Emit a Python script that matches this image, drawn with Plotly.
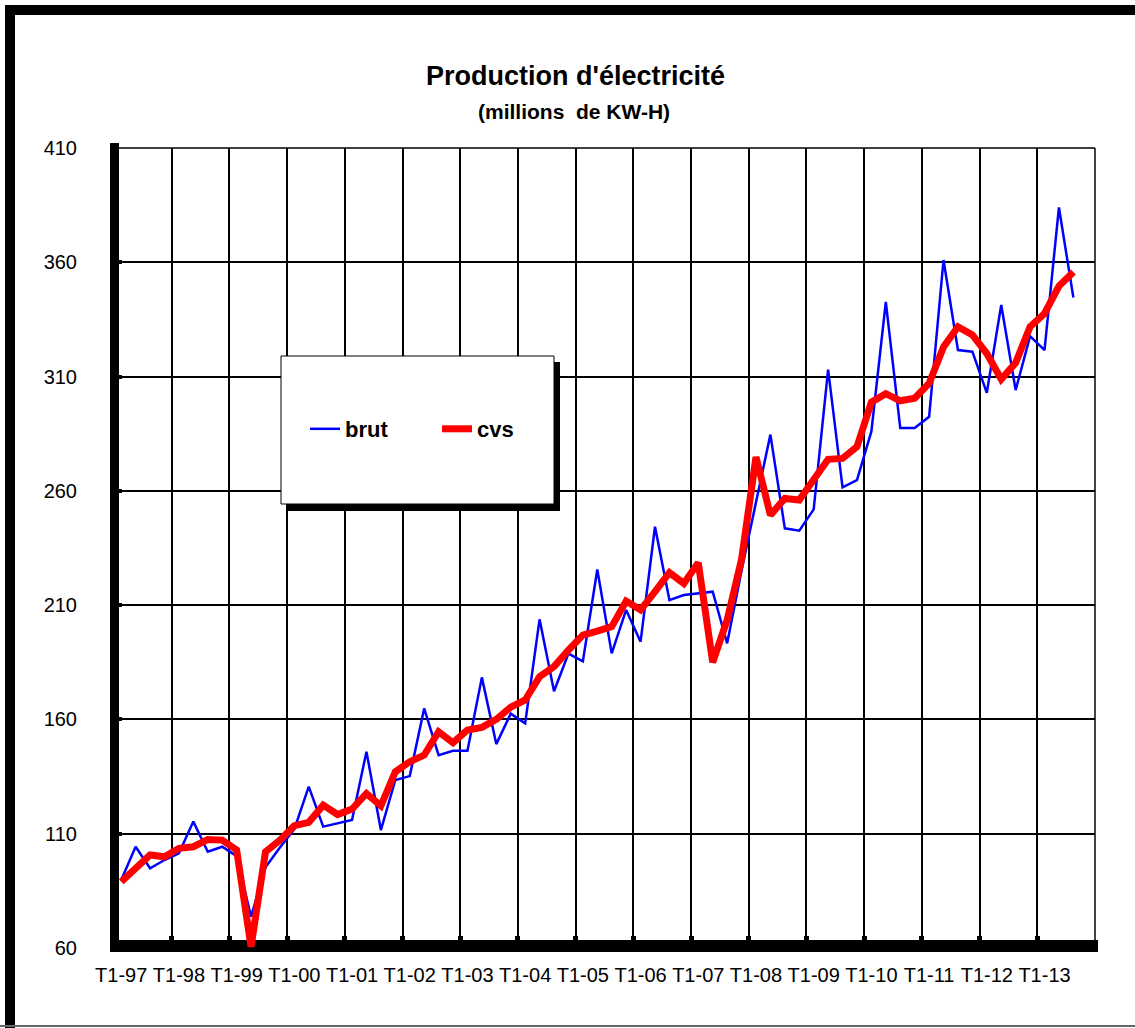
import plotly.graph_objects as go

# ---------------- data ----------------
years = ["97", "98", "99", "00", "01", "02", "03", "04", "05", "06", "07", "08", "09", "10", "11", "12", "13"]
quarters = [f"T{q}-{y}" for y in years for q in (1, 2, 3, 4)][:67]   # T1-97 .. T3-13
tick_labels = [f"T1-{y}" for y in years]

brut = [89.7, 104.3, 94.9, 98.5, 101.4, 115.3, 102.1, 104.3, 100.2, 73.7,
        95.3, 104.0, 112.0, 130.6, 113.1, 114.5, 116.0, 145.9, 111.6, 133.5,
        135.2, 164.8, 144.4, 146.3, 146.3, 178.4, 149.2, 162.5, 158.3, 203.8,
        172.3, 188.8, 185.4, 225.6, 188.9, 207.9, 194.0, 244.3, 212.2, 214.4,
        215.2, 215.9, 193.3, 225.0, 255.0, 284.6, 243.6, 242.6, 251.9, 313.0,
        261.5, 264.7, 286.0, 342.7, 287.5, 287.5, 292.4, 361.0, 321.6, 320.9,
        302.9, 341.3, 304.1, 327.7, 321.6, 384.0, 344.6]

cvs = [89.0, 94.9, 100.7, 99.9, 103.6, 104.3, 107.5, 107.2, 102.9, 60.6,
       102.1, 107.2, 113.5, 115.0, 122.5, 118.4, 120.8, 127.6, 122.2, 137.1,
       141.5, 144.4, 154.6, 149.8, 155.4, 156.5, 160.0, 165.4, 168.5, 178.7,
       183.1, 190.3, 196.9, 198.6, 200.6, 211.8, 207.9, 215.9, 224.2, 219.5,
       228.6, 185.0, 203.5, 230.0, 274.8, 249.4, 256.7, 256.0, 264.7, 273.8,
       274.2, 279.3, 298.8, 302.5, 299.4, 300.5, 307.0, 323.0, 331.8, 328.2,
       320.1, 308.8, 316.0, 331.8, 337.6, 349.6, 355.8]

y_ticks = [60, 110, 160, 210, 260, 310, 360, 410]

# ---------------- layout geometry ----------------
FIG_W, FIG_H = 1135, 1028
PL, PR, PT, PB = 114, 1095, 148, 948
W, H = PR - PL, PB - PT


def px(x):
    return (x - PL) / W


def py(y):
    return (PB - y) / H


FONT = "Liberation Sans, Arial, sans-serif"

x_idx = list(range(len(quarters)))
n_slots = 68

fig = go.Figure()
fig.add_trace(go.Scatter(x=x_idx, y=brut, mode="lines", name="brut",
                         line=dict(color="#0000FF", width=2.5),
                         text=quarters, hoverinfo="text+y"))
fig.add_trace(go.Scatter(x=x_idx, y=cvs, mode="lines", name="cvs",
                         line=dict(color="#FF0000", width=7),
                         text=quarters, hoverinfo="text+y"))

shapes = []
# outer frame
shapes.append(dict(type="rect", xref="paper", yref="paper", x0=px(8), x1=px(1135), y0=py(5), y1=py(15),
                   fillcolor="black", line=dict(width=0), layer="above"))
shapes.append(dict(type="rect", xref="paper", yref="paper", x0=px(5), x1=px(15), y0=py(5), y1=py(1028),
                   fillcolor="black", line=dict(width=0), layer="above"))
shapes.append(dict(type="line", xref="paper", yref="paper", x0=px(0), x1=px(1135), y0=py(1026), y1=py(1026),
                   line=dict(color="#666666", width=2), layer="above"))
# plot box top/right thin borders
shapes.append(dict(type="line", xref="paper", yref="paper", x0=0, x1=1, y0=1, y1=1,
                   line=dict(color="black", width=1.5), layer="below"))
shapes.append(dict(type="line", xref="paper", yref="paper", x0=1, x1=1, y0=0, y1=1,
                   line=dict(color="black", width=1.5), layer="below"))
# thick axes
shapes.append(dict(type="rect", xref="paper", yref="paper", x0=px(110), x1=px(119), y0=py(143), y1=py(952),
                   fillcolor="black", line=dict(width=0), layer="below"))
shapes.append(dict(type="rect", xref="paper", yref="paper", x0=px(110), x1=px(1098), y0=py(940), y1=py(952),
                   fillcolor="black", line=dict(width=0), layer="below"))
# legend box with shadow
shapes.append(dict(type="rect", xref="paper", yref="paper", x0=px(286), x1=px(560), y0=py(362), y1=py(511),
                   fillcolor="black", line=dict(width=0), layer="above"))
shapes.append(dict(type="rect", xref="paper", yref="paper", x0=px(281), x1=px(554), y0=py(356), y1=py(504),
                   fillcolor="white", line=dict(color="black", width=1), layer="above"))

annotations = [
    dict(text="<b>Production d'électricité</b>", xref="paper", yref="paper", x=px(575), y=py(76),
         xanchor="center", yanchor="middle", showarrow=False,
         font=dict(family=FONT, size=27, color="black")),
    dict(text="<b>(millions&nbsp; de KW-H)</b>", xref="paper", yref="paper", x=px(574), y=py(111),
         xanchor="center", yanchor="middle", showarrow=False,
         font=dict(family=FONT, size=21, color="black")),
]

fig.update_layout(
    width=FIG_W, height=FIG_H,
    margin=dict(l=PL, r=FIG_W - PR, t=PT, b=FIG_H - PB, pad=0),
    paper_bgcolor="white", plot_bgcolor="rgba(0,0,0,0)",
    showlegend=True,
    legend=dict(orientation="h", x=px(305), y=py(429), xanchor="left", yanchor="middle",
                bgcolor="rgba(0,0,0,0)", borderwidth=0,
                font=dict(family=FONT, size=22, color="black", weight="bold"),
                entrywidth=87, entrywidthmode="pixels", tracegroupgap=0),
    shapes=shapes, annotations=annotations,
    xaxis=dict(range=[-0.5, n_slots - 0.5], showline=False, zeroline=False,
               tickmode="array", tickvals=list(range(0, 65, 4)), ticktext=tick_labels,
               ticks="", showgrid=False, tickangle=0,
               tickfont=dict(family=FONT, size=20, color="black"), ticklabelstandoff=13,
               minor=dict(tickmode="array", tickvals=[3.5 + 4 * k for k in range(16)],
                          showgrid=True, gridcolor="black", gridwidth=1.5,
                          ticks="inside", ticklen=12, tickwidth=5, tickcolor="black")),
    yaxis=dict(range=[60, 410], showline=False, zeroline=False,
               tickmode="array", tickvals=y_ticks, ticktext=[str(v) for v in y_ticks],
               showgrid=True, gridcolor="black", gridwidth=1.5,
               ticks="inside", ticklen=8, tickwidth=4, tickcolor="black",
               tickfont=dict(family=FONT, size=20, color="black"), ticklabelstandoff=36),
    hovermode="closest",
)

fig.write_html("out.html", config={"displayModeBar": False},
               post_script="document.body.style.margin='0px';")
